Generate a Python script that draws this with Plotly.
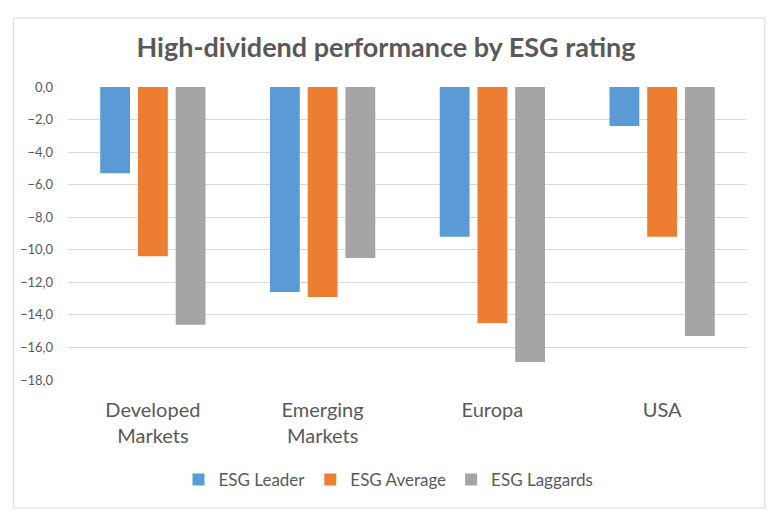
import plotly.graph_objects as go

categories = ["Developed<br>Markets", "Emerging<br>Markets", "Europa", "USA"]
series_names = ["ESG Leader", "ESG Average", "ESG Laggards"]
esg_leader = [-5.3, -12.6, -9.2, -2.4]
esg_average = [-10.4, -12.9, -14.5, -9.2]
esg_laggards = [-14.6, -10.5, -16.9, -15.3]
colors = ["#5B9BD5", "#ED7D31", "#A5A5A5"]
y_ticks = [0, -2, -4, -6, -8, -10, -12, -14, -16, -18]

W, H = 780, 520
L, R, T, B = 56, 41, 79, 148
pw, ph = W - L - R, H - T - B

fig = go.Figure()
for name, vals, c in zip(series_names, [esg_leader, esg_average, esg_laggards], colors):
    fig.add_trace(go.Bar(x=categories, y=vals, name=name, marker=dict(color=c, line=dict(width=0))))

font_family = "Lato, 'Open Sans', sans-serif"
fig.update_layout(
    width=W, height=H,
    margin=dict(l=L, r=R, t=T, b=B, pad=0),
    paper_bgcolor="white", plot_bgcolor="white",
    separators=", ",
    barmode="group", bargap=0.333, bargroupgap=0.21,
    font=dict(family=font_family, color="#595959"),
    title=dict(text="<b>High-dividend performance by ESG rating</b>", x=378 / W, xanchor="center",
               y=1 - 40 / H, yanchor="middle", font=dict(size=27, color="#595959", family=font_family)),
    legend=dict(orientation="h", x=0.472, xanchor="center", y=(H - B - 472) / ph, yanchor="middle",
                font=dict(size=17, color="#595959"), itemwidth=30, traceorder="normal"),
    showlegend=True,
)
fig.update_yaxes(range=[-18, 0], tickvals=y_ticks, tickformat=".1f", showgrid=True, gridcolor="#D9D9D9",
                 gridwidth=1, zeroline=False, showline=False, ticks="", tickfont=dict(size=13, color="#595959"),
                 ticklabelstandoff=14)
fig.update_xaxes(showgrid=False, showline=False, ticks="", tickfont=dict(size=20, color="#595959"),
                 ticklabelstandoff=16)

fig.add_shape(type="rect", xref="paper", yref="paper",
              x0=(1 - L) / pw, x1=(757 - L) / pw, y0=(H - B - 500) / ph, y1=(H - B - 10) / ph,
              line=dict(color="#D9D9D9", width=1), fillcolor="rgba(0,0,0,0)", layer="below")

fig.write_html("out.html")
